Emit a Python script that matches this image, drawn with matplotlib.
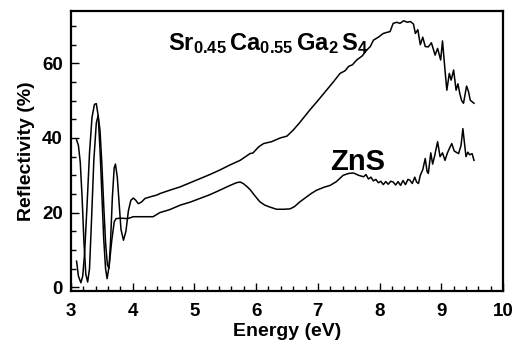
import numpy as np
import matplotlib
matplotlib.use('Agg')
import matplotlib.pyplot as plt
from matplotlib.ticker import MultipleLocator

plt.rcParams['font.family'] = ['Liberation Sans', 'DejaVu Sans']
plt.rcParams['font.weight'] = 'bold'
plt.rcParams['mathtext.fontset'] = 'custom'
plt.rcParams['mathtext.rm'] = 'Liberation Sans:bold'
plt.rcParams['mathtext.bf'] = 'Liberation Sans:bold'
plt.rcParams['mathtext.it'] = 'Liberation Sans:bold'

# Sr0.45Ca0.55Ga2S4 curve (energy eV, reflectivity %)
sr_energy = [3.09, 3.12, 3.15, 3.18, 3.21, 3.24, 3.27, 3.30, 3.33, 3.37, 3.41, 3.44,
             3.47, 3.50, 3.53, 3.56, 3.59, 3.615, 3.64, 3.67, 3.70, 3.72, 3.75, 3.78,
             3.81, 3.85, 3.89, 3.93, 3.97, 4.01, 4.05, 4.09, 4.14, 4.20, 4.30, 4.39,
             4.44, 4.60, 4.77, 4.93, 5.09, 5.25, 5.41, 5.58, 5.74, 5.90, 5.95, 6.04,
             6.12, 6.25, 6.39, 6.50, 6.60, 6.70, 6.87, 7.00, 7.14, 7.25, 7.36, 7.44,
             7.50, 7.56, 7.63, 7.72, 7.79, 7.85, 7.90, 7.98, 8.06, 8.12, 8.17, 8.22,
             8.28, 8.33, 8.39, 8.45, 8.50, 8.55, 8.58, 8.62, 8.66, 8.70, 8.74, 8.79,
             8.84, 8.90, 8.94, 8.99, 9.02, 9.06, 9.09, 9.13, 9.16, 9.20, 9.24, 9.27,
             9.30, 9.33, 9.36, 9.41, 9.44, 9.47, 9.53]
sr_refl = [39.5, 38.0, 33.5, 24.0, 12.0, 3.5, 1.4, 5.0, 17.0, 34.0, 44.0, 46.0,
           42.0, 33.0, 22.0, 12.0, 6.0, 5.0, 12.0, 24.0, 32.0, 33.0, 29.5, 22.5,
           15.5, 12.6, 15.0, 20.5, 23.3, 23.9, 23.3, 22.4, 22.8, 23.8, 24.3, 24.7,
           25.1, 26.0, 26.9, 28.0, 29.1, 30.2, 31.4, 32.8, 34.0, 35.8, 36.0, 37.6,
           38.5, 39.0, 40.0, 40.5, 42.1, 44.0, 47.5, 50.0, 52.8, 55.0, 57.3, 58.0,
           59.2, 59.6, 60.9, 62.0, 63.5, 64.5, 66.2, 67.0, 68.0, 68.3, 68.5, 70.7,
           71.0, 70.7, 71.4, 71.0, 71.2, 70.5, 68.0, 69.0, 65.0, 67.0, 64.5, 64.4,
           65.5, 62.2, 64.0, 60.9, 66.0, 58.2, 52.8, 57.3, 55.5, 58.2, 52.8, 54.5,
           51.9, 50.0, 49.3, 53.9, 52.5, 50.1, 49.3]

# ZnS curve
zns_energy = [3.09, 3.12, 3.16, 3.19, 3.22, 3.26, 3.30, 3.34, 3.38, 3.41, 3.44, 3.47,
              3.50, 3.53, 3.56, 3.585, 3.62, 3.66, 3.70, 3.73, 3.80, 3.92, 4.01, 4.20,
              4.33, 4.44, 4.60, 4.77, 4.93, 5.09, 5.25, 5.41, 5.58, 5.68, 5.74, 5.79,
              5.85, 5.90, 5.98, 6.06, 6.14, 6.22, 6.33, 6.45, 6.55, 6.62, 6.71, 6.80,
              6.90, 6.98, 7.10, 7.20, 7.30, 7.41, 7.50, 7.58, 7.66, 7.74, 7.78, 7.82,
              7.86, 7.90, 7.94, 7.98, 8.02, 8.06, 8.10, 8.14, 8.18, 8.22, 8.26, 8.30,
              8.34, 8.38, 8.42, 8.46, 8.49, 8.53, 8.57, 8.60, 8.63, 8.66, 8.70, 8.74,
              8.77, 8.79, 8.83, 8.86, 8.89, 8.94, 8.98, 9.02, 9.06, 9.10, 9.14, 9.17,
              9.21, 9.28, 9.32, 9.35, 9.38, 9.40, 9.43, 9.46, 9.50, 9.53]
zns_refl = [7.0, 3.0, 1.2, 3.0, 9.0, 22.0, 36.0, 45.5, 49.0, 49.2, 46.0, 37.0,
            25.0, 13.0, 5.0, 2.3, 6.0, 12.5, 17.5, 18.4, 18.5, 18.4, 18.9, 18.9,
            18.9, 20.0, 20.8, 22.0, 22.8, 23.8, 24.8, 26.0, 27.3, 28.0, 28.2, 27.8,
            27.0, 26.2, 24.5, 22.9, 22.0, 21.5, 20.9, 20.9, 21.0, 21.6, 22.9, 24.0,
            25.2, 26.0, 26.8, 27.3, 28.3, 30.0, 30.5, 30.6, 30.0, 29.6, 30.2, 29.0,
            29.5, 28.5, 28.9, 28.0, 28.4, 27.5, 28.3, 27.6, 28.4, 28.2, 27.4, 28.3,
            27.3, 28.6, 27.5, 28.9, 28.7, 27.8, 29.5, 28.2, 27.8, 30.0, 31.5, 34.5,
            31.0, 30.5, 36.0, 33.0, 35.0, 39.0, 35.0, 36.0, 34.0, 36.0, 37.5, 38.5,
            36.5, 35.8, 38.0, 42.5, 38.0, 35.0, 36.2, 35.5, 35.8, 34.0]

fig = plt.figure(figsize=(5.16, 3.46), dpi=100)
ax = fig.add_axes([0.1376, 0.159, 0.8372, 0.809])

ax.plot(sr_energy, sr_refl, color='black', lw=1.1)
ax.plot(zns_energy, zns_refl, color='black', lw=1.1)

ax.set_xlim(3, 10)
ax.set_ylim(-1, 74)
ax.xaxis.set_major_locator(MultipleLocator(1))
ax.xaxis.set_minor_locator(MultipleLocator(0.2))
ax.yaxis.set_major_locator(MultipleLocator(20))
ax.yaxis.set_minor_locator(MultipleLocator(5))
ax.tick_params(which='both', direction='in', top=False, right=False,
               labelsize=13.5, width=1)
ax.tick_params(which='major', length=6)
ax.tick_params(which='minor', length=3.5)
ax.tick_params(axis='x', which='major', pad=9)
ax.tick_params(axis='y', which='major', pad=6)
for s in ax.spines.values():
    s.set_linewidth(1.6)

ax.set_xlabel('Energy (eV)', fontsize=14, fontweight='bold', labelpad=2)
ax.set_ylabel('Reflectivity (%)', fontsize=14, fontweight='bold', labelpad=5)

ax.text(4.57, 63.5, r'$\mathbf{Sr_{0.45}\,Ca_{0.55}\,Ga_{2}\,S_{4}}$',
        fontsize=17, ha='left', va='baseline')
ax.text(7.2, 31.4, 'ZnS', fontsize=21, fontweight='bold',
        ha='left', va='baseline')

fig.savefig('out.png', dpi=100)
